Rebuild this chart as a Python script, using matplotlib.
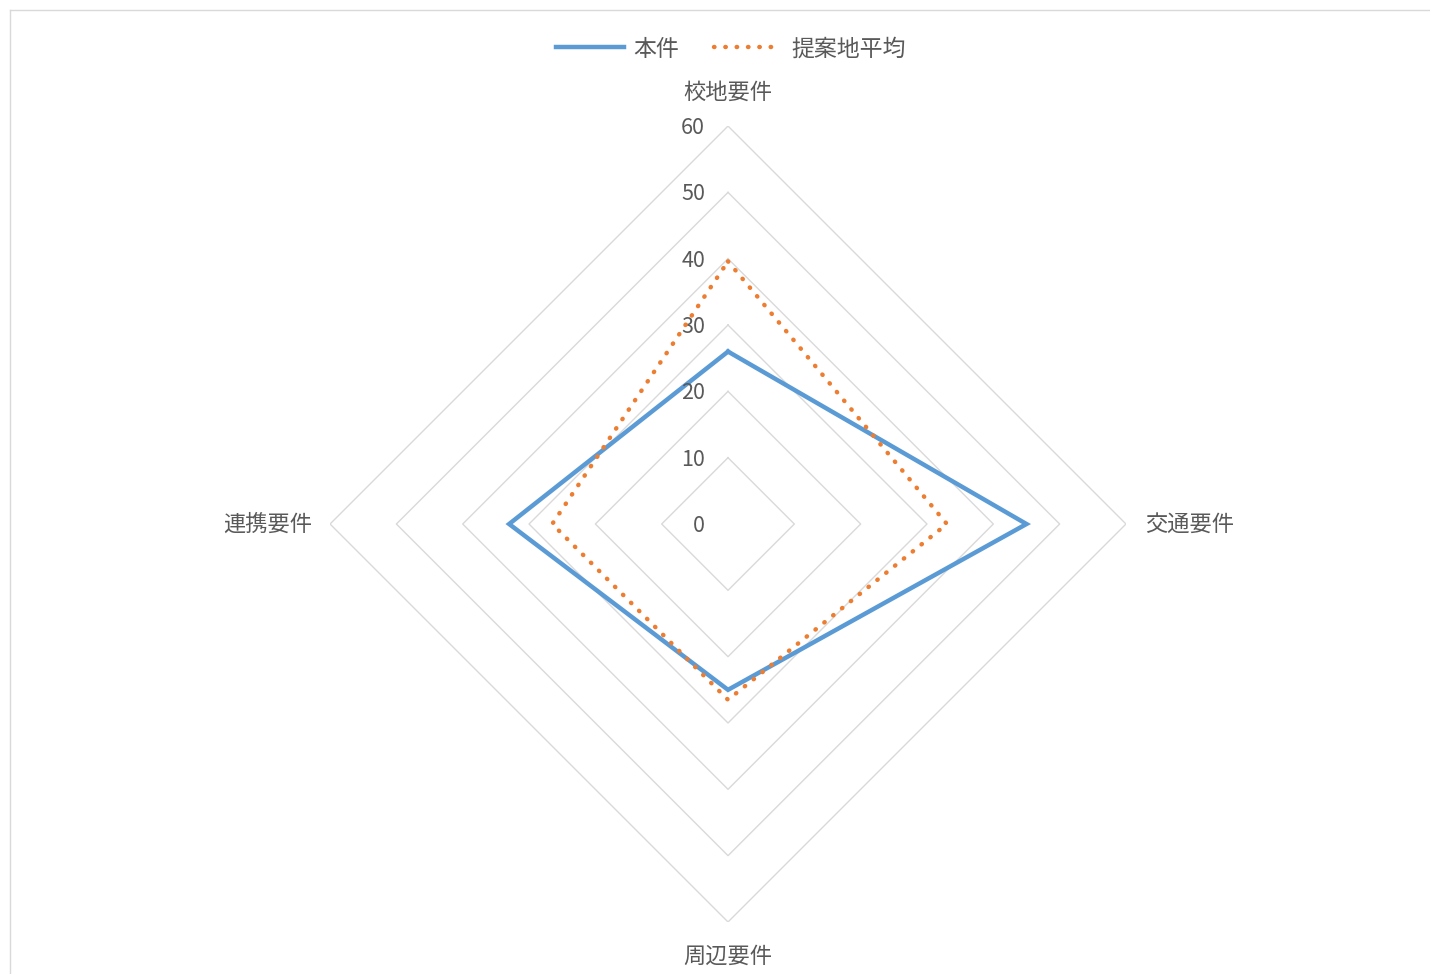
import numpy as np
import matplotlib
matplotlib.use("Agg")
import matplotlib.pyplot as plt
from matplotlib.lines import Line2D

plt.rcParams['font.family'] = ['Noto Sans CJK JP', 'DejaVu Sans']

categories = ["校地要件", "交通要件", "周辺要件", "連携要件"]
honken = [26, 45, 25, 33]
heikin = [39.6, 33, 26.5, 26.5]
ticks = [0, 10, 20, 30, 40, 50, 60]

fig = plt.figure(figsize=(14.3, 9.74), dpi=100)
ax = fig.add_axes([0.2308, 0.0534, 0.5566, 0.8172], projection='polar')
ax.set_theta_offset(np.pi / 2)
ax.set_theta_direction(-1)
ax.set_ylim(0, 60)
ax.grid(False)
ax.spines['polar'].set_visible(False)
ax.set_xticks([])
ax.set_yticks([])

theta = np.linspace(0, 2 * np.pi, len(categories), endpoint=False)
theta_c = np.append(theta, theta[0])

# diamond gridlines
for t in ticks[1:]:
    ax.plot(theta_c, [t] * len(theta_c), color='#d9d9d9', lw=1.0, zorder=1)

ax.plot(theta_c, honken + honken[:1], color='#5b9bd5', lw=3.2,
        solid_joinstyle='miter', label='本件', zorder=3)
ax.plot(theta_c, heikin + heikin[:1], color='#ed7d31', lw=3.2,
        linestyle=(0, (0.1, 2.45)), dash_capstyle='round', label='提案地平均', zorder=4)

# radial labels
for t in ticks:
    ax.annotate(str(t), xy=(0, t), xytext=(-23, -2), textcoords='offset pixels',
                ha='right', va='center', fontsize=15.5, color='#595959')

# category labels
fs = 16
ax.text(theta[0], 65.1, categories[0], ha='center', va='center', fontsize=fs, color='#595959')
ax.text(theta[1], 62.9, categories[1], ha='left', va='center', fontsize=fs, color='#595959')
ax.text(theta[2], 65.1, categories[2], ha='center', va='center', fontsize=fs, color='#595959')
ax.text(theta[3], 62.7, categories[3], ha='right', va='center', fontsize=fs, color='#595959')

leg = fig.legend(loc='center', bbox_to_anchor=(0.511, 1 - 49 / 974), ncol=2, frameon=False,
                 fontsize=16.5, handlelength=3.0, columnspacing=1.5, handletextpad=0.4)
for txt in leg.get_texts():
    txt.set_color('#595959')

# chart border
fig.add_artist(Line2D([10 / 1430, 1], [1 - 10 / 974, 1 - 10 / 974], transform=fig.transFigure,
                      color='#d9d9d9', lw=1))
fig.add_artist(Line2D([10 / 1430, 10 / 1430], [0, 1 - 10 / 974], transform=fig.transFigure,
                      color='#d9d9d9', lw=1))

fig.savefig('out.png', dpi=100, facecolor='white')
